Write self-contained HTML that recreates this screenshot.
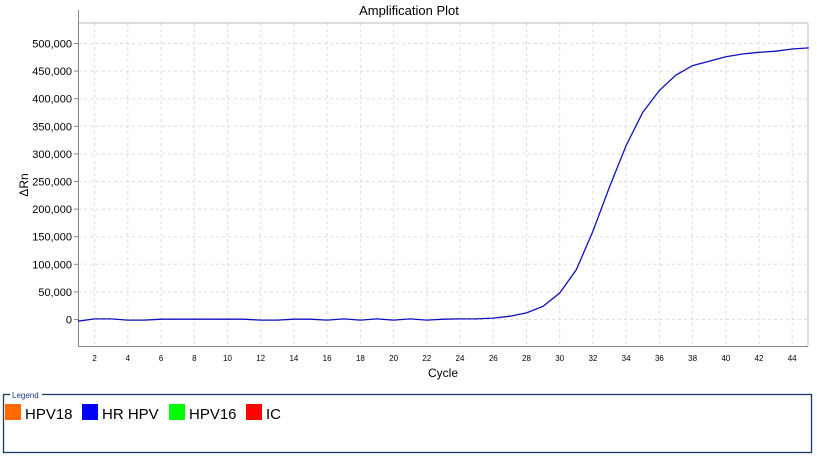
<!DOCTYPE html>
<html><head><meta charset="utf-8"><style>
html,body{margin:0;padding:0;background:#fff;width:817px;height:456px;overflow:hidden;font-family:"Liberation Sans",sans-serif}
</style></head><body>
<svg id="s" width="817" height="456" xmlns="http://www.w3.org/2000/svg" font-family="Liberation Sans, sans-serif">
<rect width="817" height="456" fill="#fff"/>
<text x="409" y="15" font-size="13" text-anchor="middle" fill="#000">Amplification Plot</text>
<g id="grid"></g>
<line x1="78" y1="23" x2="808" y2="23" stroke="#bbb"/>
<line x1="808" y1="23" x2="808" y2="346" stroke="#bbb"/>
<line x1="78.5" y1="10" x2="78.5" y2="346" stroke="#888"/>
<line x1="78" y1="346.5" x2="808" y2="346.5" stroke="#888"/>
<g id="lab" font-size="11" fill="#000"></g>
<text x="28" y="185" font-size="12" text-anchor="middle" transform="rotate(-90 28 185)">ΔRn</text>
<text x="443" y="377" font-size="12" text-anchor="middle">Cycle</text>
<path id="curve" fill="none" stroke="#1010c0" stroke-width="1.3"/>
<rect x="3.5" y="394.5" width="808" height="58" fill="none" stroke="#1a3a6a" stroke-width="1.3"/>
<rect x="10" y="390" width="32" height="9" fill="#fff"/>
<text x="12" y="398" font-size="8" fill="#1a3a8a">Legend</text>
<rect x="5" y="404" width="16" height="16" fill="#ff6a00"/>
<text x="25" y="419" font-size="15">HPV18</text>
<rect x="82" y="404" width="16" height="16" fill="#0000ff"/>
<text x="102" y="419" font-size="15">HR HPV</text>
<rect x="169" y="404" width="16" height="16" fill="#00ff00"/>
<text x="189" y="419" font-size="15">HPV16</text>
<rect x="246" y="404" width="16" height="16" fill="#ff0000"/>
<text x="266" y="419" font-size="15">IC</text>
</svg>
<script>
var X=function(c){return 78+(c-1)*16.61},Y=function(v){return 319.5-v/50000*27.6};
var g='',l='';
for(var c=2;c<=44;c+=2){var x=X(c).toFixed(1);g+='<line x1="'+x+'" y1="23" x2="'+x+'" y2="346" stroke="#ddd" stroke-dasharray="3,3"/>';l+='<text x="'+x+'" y="361" font-size="8" text-anchor="middle">'+c+'</text>';}
for(var v=0;v<=500000;v+=50000){var y=Y(v).toFixed(1);g+='<line x1="78" y1="'+y+'" x2="808" y2="'+y+'" stroke="#ddd" stroke-dasharray="3,3"/><line x1="74" y1="'+y+'" x2="78" y2="'+y+'" stroke="#888"/>';l+='<text x="72" y="'+(+y+4)+'" text-anchor="end">'+(v==0?'0':v.toLocaleString('en-US'))+'</text>';}
document.getElementById('grid').innerHTML=g;document.getElementById('lab').innerHTML=l;
var d=[-3000,1000,1000,-1000,-1000,500,500,500,500,500,500,-1000,-1000,500,500,-1000,1000,-1000,1000,-1000,1000,-1000,500,1000,1000,2500,6000,12000,24000,48000,90000,160000,240000,315000,375000,415000,443000,460000,468000,476000,481000,484000,486000,490000,492000];
var p='';for(var i=0;i<d.length;i++)p+=(i?'L':'M')+X(i+1).toFixed(1)+','+Y(d[i]).toFixed(1);
document.getElementById('curve').setAttribute('d',p);
</script>
</body></html>
